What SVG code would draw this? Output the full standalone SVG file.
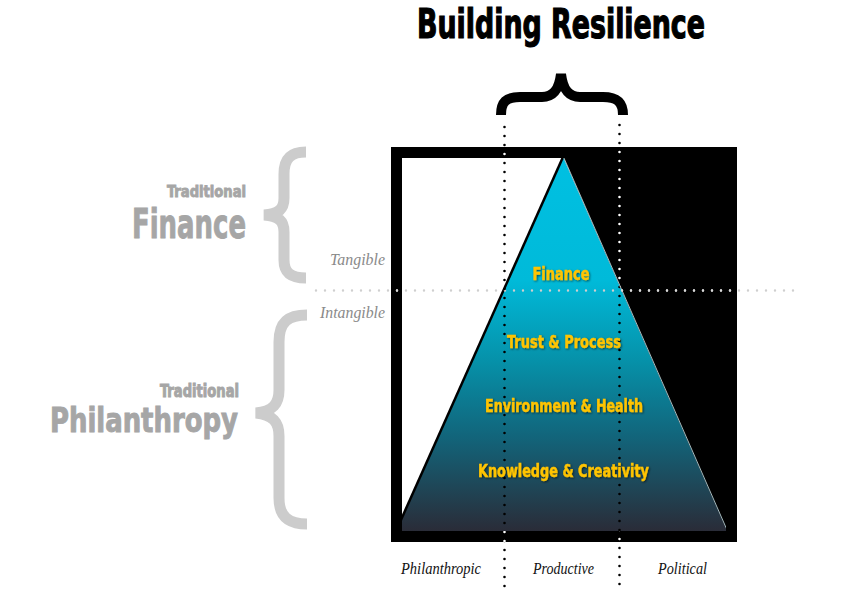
<svg xmlns="http://www.w3.org/2000/svg" width="856" height="602" viewBox="0 0 856 602">
<style>
.impact{font-family:"Liberation Sans Narrow","DejaVu Sans Condensed","Liberation Sans",sans-serif;font-weight:bold;font-stretch:condensed}
.grey{fill:#a6a6a6;stroke:#a6a6a6;stroke-width:0.9}
.yel{fill:#ffc400;stroke:#ffc400;stroke-width:0.4;font-size:17px;text-anchor:middle;filter:url(#sh)}
.script{font-family:"Liberation Serif","DejaVu Serif",serif;font-style:italic}
.brace{fill:none;stroke:#cccccc;stroke-width:11;stroke-linecap:butt}
.dotv{fill:none;stroke:#000;stroke-width:2.6;stroke-linecap:round;stroke-dasharray:0 9}
.dotw{fill:none;stroke:#fff;stroke-width:2.6;stroke-linecap:round;stroke-dasharray:0 9}
.doth{fill:none;stroke:#cfcfcf;stroke-width:2.4;stroke-linecap:round;stroke-dasharray:0 9}
</style>
<defs>
<linearGradient id="g" x1="0" y1="157" x2="0" y2="531" gradientUnits="userSpaceOnUse">
<stop offset="0" stop-color="#00c0e2"/>
<stop offset="0.33" stop-color="#00bad9"/>
<stop offset="0.55" stop-color="#0690a8"/>
<stop offset="0.75" stop-color="#12647a"/>
<stop offset="1" stop-color="#2a2c38"/>
</linearGradient>
<clipPath id="inner"><rect x="402" y="158" width="324" height="373"/></clipPath>
<clipPath id="blk">
<path clip-rule="evenodd" d="M391 147H737V542H391Z M402 158H726V531H402Z"/>
<polygon points="563,157 726,157 726,531 727,531"/>
</clipPath>
<filter id="sh" x="-10%" y="-30%" width="120%" height="160%">
<feDropShadow dx="1" dy="1" stdDeviation="0.8" flood-color="#000" flood-opacity="0.6"/>
</filter>
</defs>

<g id="title">
<text class="impact" x="561" y="38" font-size="40" text-anchor="middle" textLength="288" lengthAdjust="spacingAndGlyphs" fill="#000" stroke="#000" stroke-width="1.2">Building Resilience</text>
<path d="M501 115 C501 102 506 97 520 97 L542 97 C553 97 559 90 561 74 C563 90 569 97 580 97 L603 97 C617 97 623 102 623 115" fill="none" stroke="#000" stroke-width="10"/>
</g>

<g id="frame">
<rect x="391" y="147" width="346" height="395" fill="#000"/>
<rect x="402" y="158" width="324" height="373" fill="#fff"/>
<polygon points="563,157 726,157 726,531" fill="#000" clip-path="url(#inner)"/>
</g>

<g id="pyramid" clip-path="url(#inner)">
<polygon points="563,157 396,531 727,531" fill="url(#g)"/>
<line x1="563" y1="157" x2="396" y2="531" stroke="#000" stroke-width="2.5"/>
<line x1="563.5" y1="157" x2="727.5" y2="531" stroke="#cfe8ee" stroke-width="0.8"/>
</g>

<g id="connectors">
<line class="doth" x1="316" y1="290.5" x2="797" y2="290.5"/>
<line class="dotv" x1="504.5" y1="127" x2="504.5" y2="590"/>
<line class="dotv" x1="619.5" y1="125" x2="619.5" y2="590"/>
<g clip-path="url(#blk)">
<line class="dotw" x1="504.5" y1="127" x2="504.5" y2="590"/>
<line class="dotw" x1="619.5" y1="125" x2="619.5" y2="590"/>
<line class="doth" x1="316" y1="290.5" x2="797" y2="290.5" style="stroke:#d8d8d8"/>
</g>
</g>

<g id="layer-finance"><text class="impact yel" x="561" y="280" textLength="57" lengthAdjust="spacingAndGlyphs">Finance</text></g>
<g id="layer-trust"><text class="impact yel" x="564" y="348" textLength="114" lengthAdjust="spacingAndGlyphs">Trust &amp; Process</text></g>
<g id="layer-environment"><text class="impact yel" x="564" y="412" textLength="158" lengthAdjust="spacingAndGlyphs">Environment &amp; Health</text></g>
<g id="layer-knowledge"><text class="impact yel" x="563.5" y="477" textLength="171" lengthAdjust="spacingAndGlyphs">Knowledge &amp; Creativity</text></g>

<g id="traditional-finance">
<text class="impact grey" x="246" y="197" font-size="16" text-anchor="end" textLength="79" lengthAdjust="spacingAndGlyphs">Traditional</text>
<text class="impact grey" x="246" y="238" font-size="41" text-anchor="end" textLength="114" lengthAdjust="spacingAndGlyphs">Finance</text>
<path class="brace" d="M306 152 C291 152 284 158 284 174 L284 198 C284 209 279 214 264 215 C279 216 284 221 284 232 L284 260 C284 273 291 278 306 278"/>
</g>

<g id="traditional-philanthropy">
<text class="impact grey" x="239" y="397" font-size="17" text-anchor="end" textLength="79" lengthAdjust="spacingAndGlyphs">Traditional</text>
<text class="impact grey" x="238" y="432" font-size="33" text-anchor="end" textLength="188" lengthAdjust="spacingAndGlyphs">Philanthropy</text>
<path class="brace" d="M307 315 C288 315 279 322 279 342 L279 390 C279 404 273 411 256 413 C273 415 279 422 279 436 L279 498 C279 516 288 524 307 524"/>
</g>

<g id="axis-labels">
<text class="script" x="330" y="265" font-size="16" fill="#8a8a8a" textLength="55" lengthAdjust="spacingAndGlyphs">Tangible</text>
<text class="script" x="320" y="318" font-size="16" fill="#8a8a8a" textLength="65" lengthAdjust="spacingAndGlyphs">Intangible</text>
<text class="script" x="401" y="574" font-size="17" fill="#111" textLength="80" lengthAdjust="spacingAndGlyphs">Philanthropic</text>
<text class="script" x="533" y="574" font-size="17" fill="#111" textLength="61" lengthAdjust="spacingAndGlyphs">Productive</text>
<text class="script" x="658" y="574" font-size="17" fill="#111" textLength="49" lengthAdjust="spacingAndGlyphs">Political</text>
</g>
</svg>
